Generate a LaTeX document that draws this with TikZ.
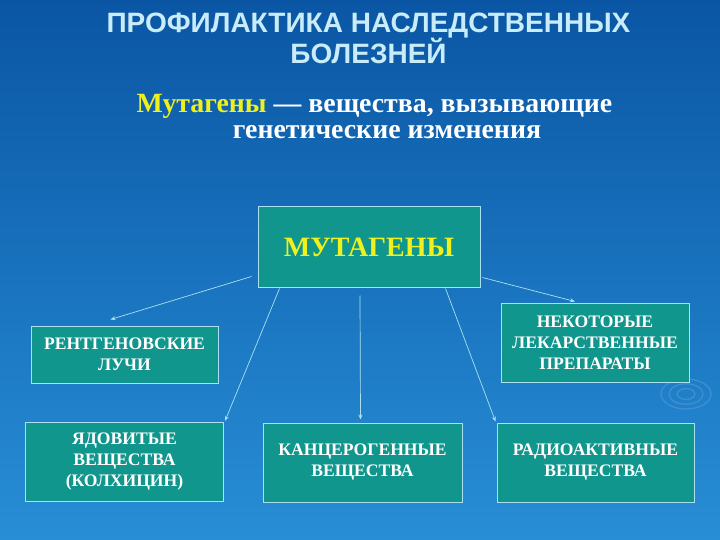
\documentclass[tikz,border=0pt]{standalone}
\usepackage{fontspec}
\setmainfont{Liberation Serif}
\newfontfamily\titlefont{Liberation Sans}
\usetikzlibrary{arrows.meta}
\definecolor{bgtop}{RGB}{10,86,164}
\definecolor{bgbot}{RGB}{40,142,214}
\definecolor{boxfill}{RGB}{16,150,140}
\definecolor{boxline}{RGB}{170,225,240}
\definecolor{titlecol}{RGB}{200,236,250}
\definecolor{yellowtxt}{RGB}{240,240,30}

\begin{document}
\begin{tikzpicture}[x=1pt, y=-1pt,
    box/.style = {draw=boxline, line width=1pt, fill=boxfill, text=white, align=center, inner sep=0pt, font=\bfseries\fontsize{17.6}{21}\selectfont},
    arr/.style = {draw=boxline, line width=0.7pt, -{Stealth[length=5pt, width=4pt]}},
    ripple/.style = {draw=white, opacity=0.13, line width=1.4pt}]
				\shade[top color=bgtop, bottom color=bgbot] (0,0) rectangle (720,540);
				\useasboundingbox (0,0) rectangle (720,540);
				% faint ripples of the background
				\foreach \r in {9,17,25}
					\draw[ripple] (686,394) ellipse ({\r} and \r*0.6);
				\node[text=titlecol, align=center, font=\titlefont\bfseries\fontsize{28}{31}\selectfont] (title) at (368.5,38.5) {ПРОФИЛАКТИКА НАСЛЕДСТВЕННЫХ\\БОЛЕЗНЕЙ};
				\node[text=white, align=center, font=\bfseries\fontsize{27.8}{26}\selectfont] (sub) at (374.5,117) {\textcolor{yellowtxt}{Мутагены} — вещества, вызывающие\\\hspace*{25pt}генетические изменения};
				\node[box, minimum width=222pt, minimum height=80pt, text=yellowtxt, font=\bfseries\fontsize{28}{32}\selectfont] (mut) at (369,247) {МУТАГЕНЫ};
				\node[box, minimum width=187pt, minimum height=57pt] (xray) at (124.5,354.5) {РЕНТГЕНОВСКИЕ\\ЛУЧИ};
				\node[box, minimum width=188pt, minimum height=79pt] (drugs) at (595,342.5) {НЕКОТОРЫЕ\\ЛЕКАРСТВЕННЫЕ\\ПРЕПАРАТЫ};
				\node[box, minimum width=198pt, minimum height=79pt] (poison) at (124.5,462) {ЯДОВИТЫЕ\\ВЕЩЕСТВА\\(КОЛХИЦИН)};
				\node[box, minimum width=199pt, minimum height=79pt] (carc) at (362.5,462.5) {КАНЦЕРОГЕННЫЕ\\ВЕЩЕСТВА};
				\node[box, minimum width=197pt, minimum height=79pt] (radio) at (595.5,462.5) {РАДИОАКТИВНЫЕ\\ВЕЩЕСТВА};
				\draw[arr] ([shift={(-6,-11)}]mut.south west) -- ([shift={(-14,-6)}]xray.north);
				\draw[arr] ([shift={(22,1)}]mut.south west) -- ([shift={(1,-1)}]poison.north east);
				\draw[arr] ([shift={(-9,8)}]mut.south) -- ([shift={(-2,-3)}]carc.north);
				\draw[arr] ([shift={(-35,1)}]mut.south east) -- ([shift={(-1,-1)}]radio.north west);
				\draw[arr] ([shift={(2,-10)}]mut.south east) -- ([shift={(-20,-1)}]drugs.north);
			\end{tikzpicture}
\end{document}
